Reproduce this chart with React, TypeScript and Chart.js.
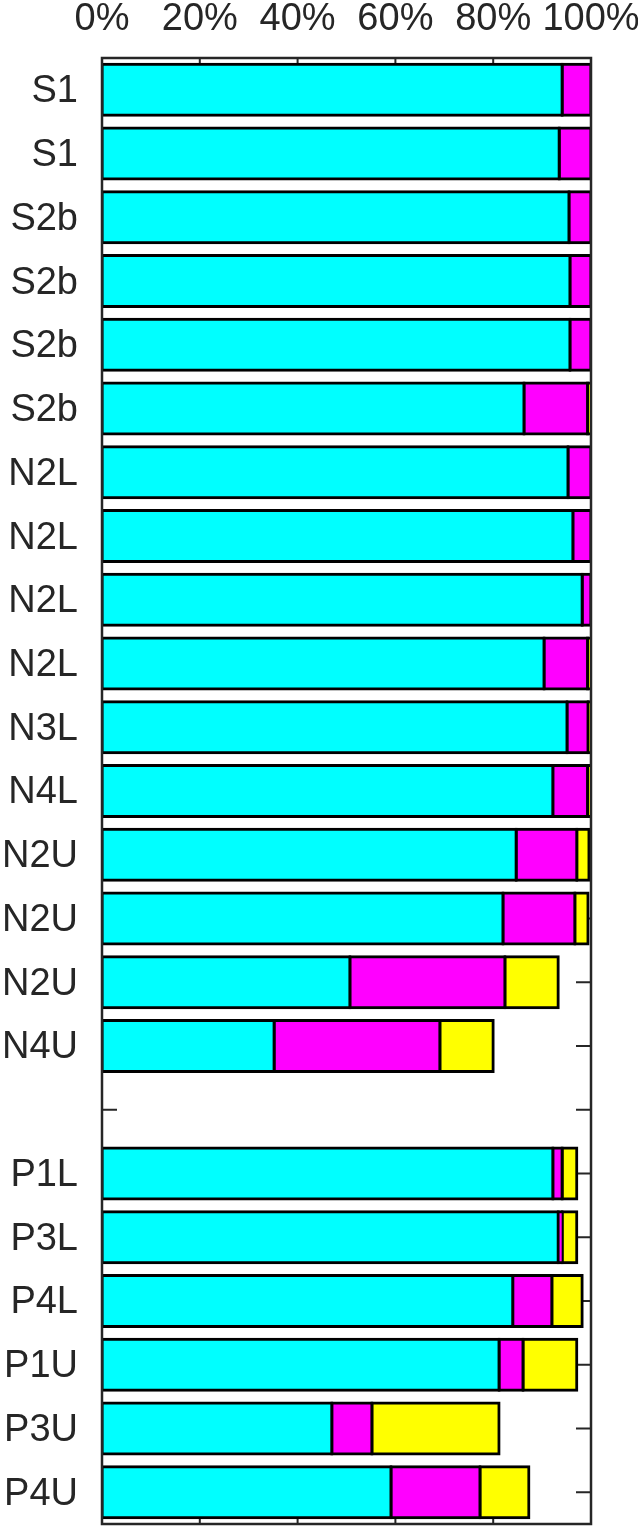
import React, { useEffect, useRef } from "react";
import { Chart, registerables } from "chart.js";

Chart.register(...registerables);

const categories: string[] = [
  "S1", "S1", "S2b", "S2b", "S2b", "S2b",
  "N2L", "N2L", "N2L", "N2L", "N3L", "N4L",
  "N2U", "N2U", "N2U", "N4U", "",
  "P1L", "P3L", "P4L", "P1U", "P3U", "P4U",
];

const cyanValues: (number | null)[] = [
  94.1, 93.5, 95.5, 95.7, 95.7, 86.3,
  95.3, 96.3, 98.2, 90.4, 95.1, 92.2,
  84.7, 82.0, 50.7, 35.2, null,
  92.2, 93.3, 84.0, 81.2, 47.0, 59.1,
];

const magentaValues: (number | null)[] = [
  5.9, 6.5, 4.5, 4.3, 4.3, 13.0,
  4.7, 3.7, 1.8, 8.9, 4.3, 7.1,
  12.4, 14.7, 31.7, 33.9, null,
  1.9, 0.8, 8.0, 4.9, 8.2, 18.2,
];

const yellowValues: (number | null)[] = [
  null, null, null, null, null, 0.7,
  null, null, null, 0.7, 0.6, 0.7,
  2.5, 2.7, 10.9, 10.9, null,
  3.0, 3.0, 6.2, 11.0, 26.0, 10.0,
];

const xTickValues: number[] = [0, 20, 40, 60, 80, 100];

const TEXT = "#262626";
const FONT = "'Liberation Sans', Arial, Helvetica, sans-serif";

const frameTicks = {
  id: "frameTicks",
  beforeDatasetsDraw(chart: any) {
    const { ctx, chartArea } = chart;
    const { left, right, top, bottom } = chartArea;
    const xs = chart.scales.x;
    const ys = chart.scales.y;
    const len = 15;
    ctx.save();
    ctx.strokeStyle = TEXT;
    ctx.lineWidth = 2;
    ctx.beginPath();
    xs.ticks.forEach((_t: any, i: number) => {
      const px = xs.getPixelForTick(i);
      ctx.moveTo(px, top);
      ctx.lineTo(px, top + len);
      ctx.moveTo(px, bottom);
      ctx.lineTo(px, bottom - len);
    });
    ys.ticks.forEach((_t: any, i: number) => {
      const py = ys.getPixelForTick(i);
      ctx.moveTo(left, py);
      ctx.lineTo(left + len, py);
      ctx.moveTo(right, py);
      ctx.lineTo(right - len, py);
    });
    ctx.stroke();
    ctx.restore();
  },
  afterDatasetsDraw(chart: any) {
    const { ctx, chartArea } = chart;
    const { left, right, top, bottom } = chartArea;
    ctx.save();
    ctx.strokeStyle = TEXT;
    ctx.lineWidth = 2.5;
    ctx.strokeRect(left, top, right - left, bottom - top);
    ctx.restore();
  },
};

const zeroPad = (s: any) => {
  s.paddingLeft = 0;
  s.paddingRight = 0;
  s.paddingTop = 0;
  s.paddingBottom = 0;
};

export default function App() {
  const ref = useRef<HTMLCanvasElement | null>(null);

  useEffect(() => {
    if (!ref.current) return;
    const barCommon = {
      borderColor: "#000000",
      borderWidth: 3,
      borderSkipped: false as const,
      inflateAmount: 1.5,
      barPercentage: 0.8,
      categoryPercentage: 1.0,
    };
    const chart = new Chart(ref.current, {
      type: "bar",
      data: {
        labels: categories,
        datasets: [
          { label: "cyan", data: cyanValues, backgroundColor: "#00FFFF", ...barCommon },
          { label: "magenta", data: magentaValues, backgroundColor: "#FF00FF", ...barCommon },
          { label: "yellow", data: yellowValues, backgroundColor: "#FFFF00", ...barCommon },
        ],
      },
      options: {
        indexAxis: "y",
        animation: false,
        responsive: false,
        devicePixelRatio: 1,
        layout: { padding: { left: 0, top: 0, right: 47, bottom: 9 } },
        plugins: {
          legend: { display: false },
          tooltip: { enabled: false },
          title: { display: false },
        },
        scales: {
          x: {
            type: "linear",
            position: "top",
            stacked: true,
            min: 0,
            max: 100,
            afterBuildTicks: (s: any) => {
              s.ticks = xTickValues.map((v) => ({ value: v }));
            },
            ticks: {
              callback: (v: any) => `${v}%`,
              color: TEXT,
              font: { family: FONT, size: 38 },
              padding: 16,
              maxRotation: 0,
              autoSkip: false,
            },
            grid: { display: false, drawTicks: false },
            border: { display: false },
            afterFit: (s: any) => {
              s.height = 58;
              zeroPad(s);
            },
          },
          y: {
            type: "category",
            stacked: true,
            offset: true,
            ticks: {
              color: TEXT,
              font: { family: FONT, size: 38 },
              padding: 24,
              labelOffset: 2,
              autoSkip: false,
            },
            grid: { display: false, drawTicks: false },
            border: { display: false },
            afterFit: (s: any) => {
              s.width = 102;
              zeroPad(s);
            },
          },
        },
      },
      plugins: [frameTicks],
    });
    return () => chart.destroy();
  }, []);

  return (
    <div style={{ position: "fixed", left: 0, top: 0, width: 638, height: 1533, background: "#ffffff" }}>
      <canvas ref={ref} width={638} height={1533} style={{ display: "block" }} />
    </div>
  );
}
